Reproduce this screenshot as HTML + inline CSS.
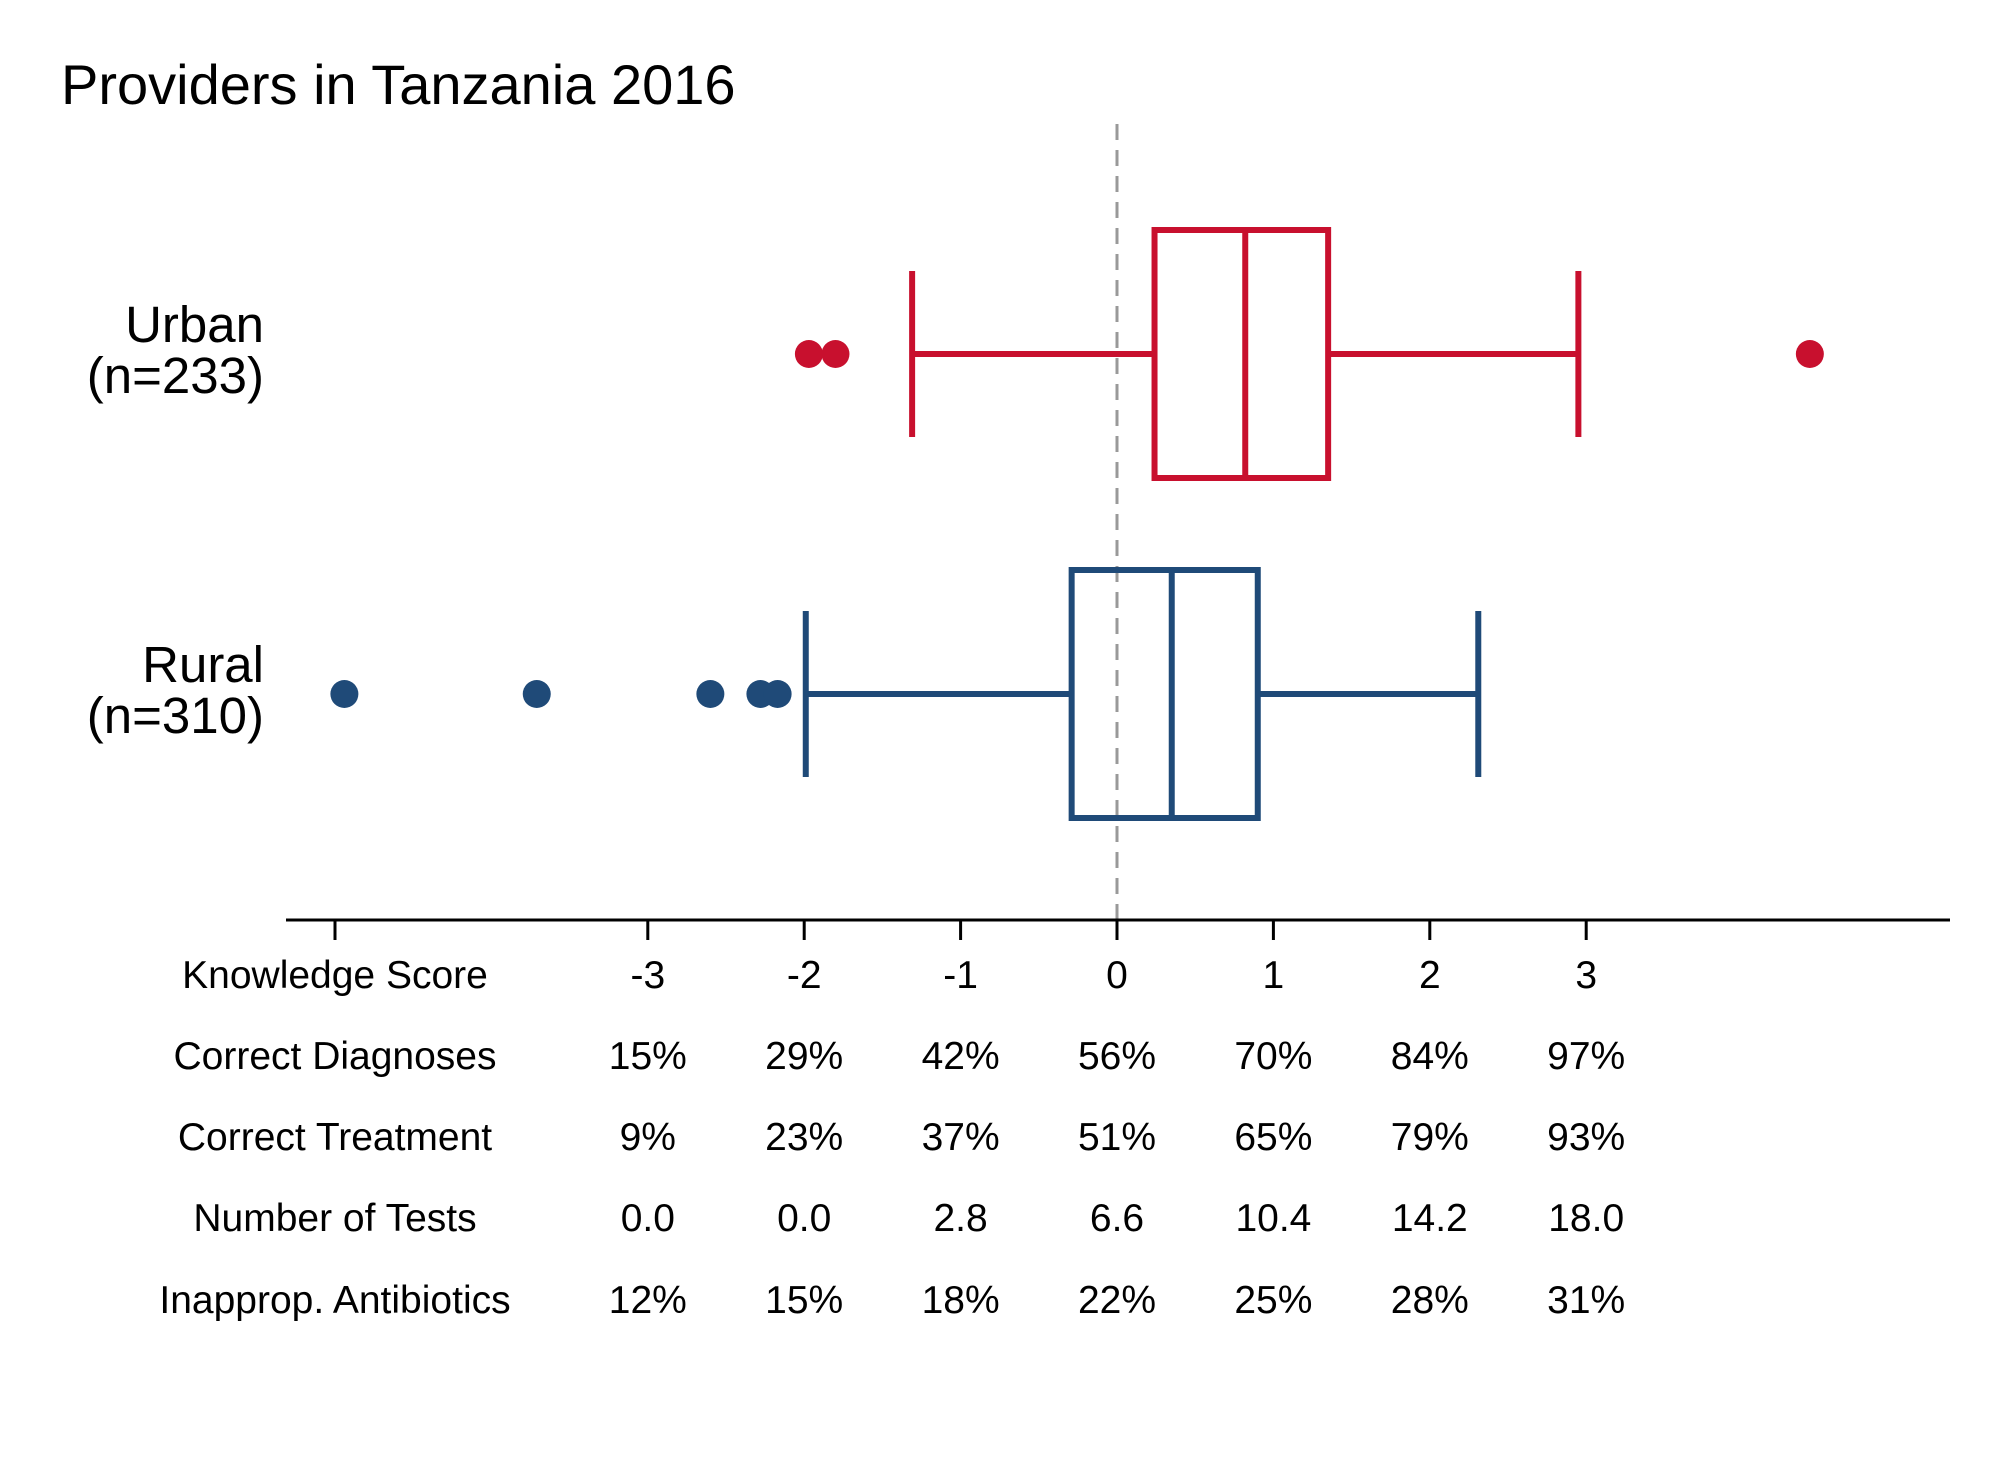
<!DOCTYPE html>
<html><head><meta charset="utf-8"><style>
html,body{margin:0;padding:0;background:#fff;}
svg text{font-family:"Liberation Sans",Arial,sans-serif;fill:#000;}
</style></head><body>
<svg id="chart" width="2000" height="1455" viewBox="0 0 2000 1455" xmlns="http://www.w3.org/2000/svg">
<rect width="2000" height="1455" fill="#fff"/>
<text x="61" y="104" font-size="56">Providers in Tanzania 2016</text>
<g id="marks"></g>
</svg>
<script>
const groups = ["Urban", "Rural"];
const groupN = ["(n=233)", "(n=310)"];
const colors = ["#C8102E", "#1F4A78"];
const q1 = [0.24, -0.29];
const med = [0.82, 0.35];
const q3 = [1.35, 0.90];
const whiskLo = [-1.31, -1.99];
const whiskHi = [2.95, 2.31];
const outliers = [[-1.97, -1.80, 4.43], [-4.94, -3.71, -2.60, -2.28, -2.17]];
const tickVals = [-5, -3, -2, -1, 0, 1, 2, 3];
const tickLabels = ["Knowledge Score", "-3", "-2", "-1", "0", "1", "2", "3"];
const rowNames = ["Correct Diagnoses", "Correct Treatment", "Number of Tests", "Inapprop. Antibiotics"];
const rowDiag = ["15%", "29%", "42%", "56%", "70%", "84%", "97%"];
const rowTreat = ["9%", "23%", "37%", "51%", "65%", "79%", "93%"];
const rowTests = ["0.0", "0.0", "2.8", "6.6", "10.4", "14.2", "18.0"];
const rowAbx = ["12%", "15%", "18%", "22%", "25%", "28%", "31%"];

const NS = "http://www.w3.org/2000/svg";
const g = document.getElementById("marks");
const X = v => 1117 + v * 156.4;
const Yc = [354, 694];
const boxH = 124, capH = 83;
const AX = 920;
function mk(tag, attrs) { const e = document.createElementNS(NS, tag); for (const k in attrs) e.setAttribute(k, attrs[k]); g.appendChild(e); return e; }

let e = mk("line", {x1: X(0), x2: X(0), y1: 124, y2: AX, stroke: "#999", "stroke-width": 3, "stroke-dasharray": "16,10"});



groups.forEach((name, i) => {
  const c = colors[i], y = Yc[i];
  let l = mk("line", {x1: X(whiskLo[i]), x2: X(q1[i]), y1: y, y2: y, stroke: c, "stroke-width": 6});
  
  
  l = mk("line", {x1: X(q3[i]), x2: X(whiskHi[i]), y1: y, y2: y, stroke: c, "stroke-width": 6});
  
  
  [whiskLo[i], whiskHi[i]].forEach(v => {
    const cp = mk("line", {x1: X(v), x2: X(v), y1: y - capH, y2: y + capH, stroke: c, "stroke-width": 6});
    
    
  });
  const b = mk("rect", {x: X(q1[i]), y: y - boxH, width: X(q3[i]) - X(q1[i]), height: boxH * 2, fill: "none", stroke: c, "stroke-width": 6});
  
  
  const m = mk("line", {x1: X(med[i]), x2: X(med[i]), y1: y - boxH, y2: y + boxH, stroke: c, "stroke-width": 6});
  
  
  outliers[i].forEach(v => {
    const d = mk("circle", {cx: X(v), cy: y, r: 14, fill: c});
    
    
  });
  const t1 = mk("text", {x: 264, y: y - 12, "font-size": 51, "text-anchor": "end"});
  t1.textContent = name;
  
  
  const t2 = mk("text", {x: 264, y: y + 39, "font-size": 51, "text-anchor": "end"});
  t2.textContent = groupN[i];
  
  
});

e = mk("line", {x1: 286, x2: 1950, y1: AX, y2: AX, stroke: "#000", "stroke-width": 3});


tickVals.forEach((v, k) => {
  const t = mk("line", {x1: X(v), x2: X(v), y1: AX, y2: AX + 20, stroke: "#000", "stroke-width": 3});
  
  
  const lb = mk("text", {x: X(v), y: 988, "font-size": 39, "text-anchor": "middle"});
  lb.textContent = tickLabels[k];
  
  
});
const rows = [rowDiag, rowTreat, rowTests, rowAbx];
const rowY = [1069, 1150, 1231, 1313];
rows.forEach((r, ri) => {
  const nm = mk("text", {x: X(-5), y: rowY[ri], "font-size": 39, "text-anchor": "middle"});
  nm.textContent = rowNames[ri];
  
  
  r.forEach((val, k) => {
    const t = mk("text", {x: X(tickVals[k + 1]), y: rowY[ri], "font-size": 39, "text-anchor": "middle"});
    t.textContent = val;
    
    
  });
});
</script>
</body></html>
